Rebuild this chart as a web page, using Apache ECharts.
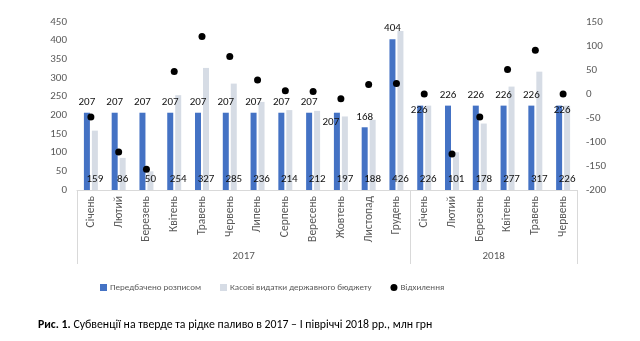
<!DOCTYPE html>
<html>
<head>
<meta charset="utf-8">
<script src="https://cdn.jsdelivr.net/npm/echarts@6/dist/echarts.min.js"></script>
<style>html,body{margin:0;padding:0;background:#fff}#c{width:640px;height:341px}</style>
</head>
<body>
<div id="c"></div>
<script>
const months = ['Січень','Лютий','Березень','Квітень','Травень','Червень','Липень','Серпень','Вересень','Жовтень','Листопад','Грудень','Січень','Лютий','Березень','Квітень','Травень','Червень'];
const years = ['2017','2018'];
const yearSpans = [12, 6];
const planned = [207,207,207,207,207,207,207,207,207,207,168,404,226,226,226,226,226,226];
const actual = [159,86,50,254,327,285,236,214,212,197,188,426,226,101,178,277,317,226];
const deviation = [-48,-121,-157,47,120,78,29,7,5,-10,20,22,0,-125,-48,51,91,0];
const leftTicks = [0,450,50];
const rightTicks = [-200,150,50];

const FONT = "Carlito, 'Liberation Sans Narrow', 'Liberation Sans', sans-serif";
const labelShift = {9: [-6, 20], 12: [-1, 15], 17: [3, 15]};

const yearBounds = [];
let acc = 0;
yearSpans.forEach(s => { yearBounds.push(acc); acc += s; });
const yearMids = yearSpans.map((s, i) => yearBounds[i] + s / 2);

const chart = echarts.init(document.getElementById('c'), null, {renderer: 'canvas'});
chart.setOption({
  animation: false,
  textStyle: {fontFamily: FONT},
  grid: {left: 77, right: 63, top: 22, bottom: 151, containLabel: false},
  legend: {
    left: 95, top: 278, itemWidth: 7, itemHeight: 7, itemGap: 19,
    textStyle: {fontSize: 9, color: '#595959', fontFamily: FONT, padding: [0, 0, 0, -2]},
    data: [
      {name: 'Передбачено розписом', icon: 'rect'},
      {name: 'Касові видатки державного бюджету', icon: 'rect'},
      {name: 'Відхилення', icon: 'circle'}
    ]
  },
  title: {
    left: 33, top: 314,
    text: '{b|Рис. 1.} Субвенції на тверде та рідке паливо в 2017 – І півріччі 2018 рр., млн грн',
    textStyle: {
      fontSize: 11.8, fontWeight: 'normal', color: '#000', fontFamily: FONT,
      rich: {b: {fontWeight: 'bold', fontSize: 11.8, color: '#000', fontFamily: FONT}}
    }
  },
  xAxis: [
    {
      type: 'category', data: months, position: 'bottom',
      axisLine: {show: true, lineStyle: {color: '#d9d9d9', width: 1}},
      axisTick: {show: true, length: 74, lineStyle: {color: '#d9d9d9'},
        interval: (i) => yearBounds.indexOf(i) >= 0},
      axisLabel: {interval: 0, rotate: 90, margin: 6, fontSize: 11.5, color: '#595959', fontFamily: FONT},
      splitLine: {show: false}
    },
    {
      type: 'value', min: 0, max: acc, interval: 1, position: 'bottom',
      axisLine: {show: false}, axisTick: {show: false}, splitLine: {show: false},
      axisLabel: {
        margin: 61, fontSize: 11, color: '#595959', fontFamily: FONT, showMinLabel: true, showMaxLabel: true,
        formatter: (v) => { const k = yearMids.indexOf(v); return k >= 0 ? years[k] : ''; }
      }
    }
  ],
  yAxis: [
    {
      type: 'value', min: leftTicks[0], max: leftTicks[1], interval: leftTicks[2],
      axisLine: {show: false}, axisTick: {show: false}, splitLine: {show: false},
      axisLabel: {fontSize: 11, color: '#595959', margin: 10, fontFamily: FONT}
    },
    {
      type: 'value', min: rightTicks[0], max: rightTicks[1], interval: rightTicks[2],
      axisLine: {show: false}, axisTick: {show: false}, splitLine: {show: false},
      axisLabel: {fontSize: 11, color: '#595959', margin: 9, fontFamily: FONT}
    }
  ],
  series: [
    {
      name: 'Передбачено розписом', type: 'bar', xAxisIndex: 0, yAxisIndex: 0,
      barWidth: 6, barGap: '33%',
      itemStyle: {color: '#4472C4'},
      label: {show: true, position: 'top', distance: 5, fontSize: 11, color: '#111', fontFamily: FONT},
      data: planned.map((v, i) => labelShift[i] ? {value: v, label: {offset: labelShift[i]}} : v)
    },
    {
      name: 'Касові видатки державного бюджету', type: 'bar', xAxisIndex: 0, yAxisIndex: 0,
      barWidth: 6, barGap: '33%',
      itemStyle: {color: '#D6DCE5'},
      label: {show: true, position: 'insideBottom', distance: 5, fontSize: 11, color: '#111', fontFamily: FONT},
      data: actual
    },
    {
      name: 'Відхилення', type: 'scatter', xAxisIndex: 0, yAxisIndex: 1,
      symbol: 'circle', symbolSize: 7, itemStyle: {color: '#000', opacity: 1},
      z: 5,
      data: deviation
    }
  ]
});
</script>
</body>
</html>
